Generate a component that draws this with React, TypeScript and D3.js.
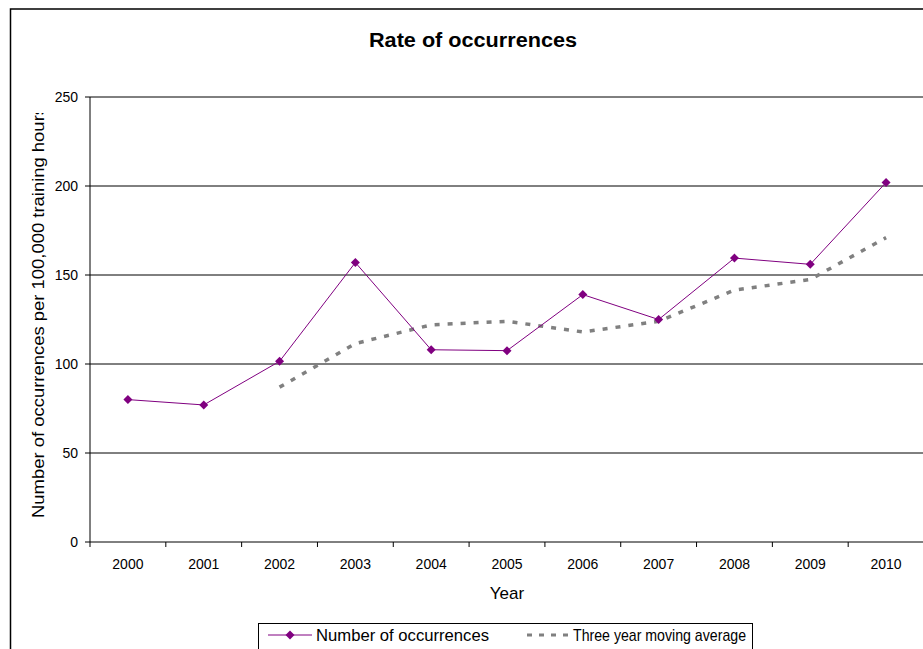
import React from 'react';
import * as d3 from 'd3';

const years = ['2000', '2001', '2002', '2003', '2004', '2005', '2006', '2007', '2008', '2009', '2010'];
const occurrences = [80, 77, 101.5, 157, 108, 107.5, 139, 125, 159.5, 156, 202];
const movingAvgYears = ['2002', '2003', '2004', '2005', '2006', '2007', '2008', '2009', '2010'];
const movingAvg = [87, 111.5, 122, 124, 118, 124, 141.5, 147.5, 171];
const yTicks = [0, 50, 100, 150, 200, 250];

const W = 923;
const H = 649;
const plot = { left: 90, top: 97, right: 924, bottom: 542 };
const font = '"Liberation Sans", Arial, sans-serif';
const purple = '#800080';
const grey = '#808080';

const Diamond = ({ x, y }: { x: number; y: number }) => (
  <path d={`M${x},${y - 4.5}L${x + 4.5},${y}L${x},${y + 4.5}L${x - 4.5},${y}Z`} fill={purple} />
);

export default function App() {
  const x = d3.scaleBand().domain(years).range([plot.left, plot.right]);
  const y = d3.scaleLinear().domain([0, 250]).range([plot.bottom, plot.top]);
  const cx = (yr: string) => (x(yr) as number) + x.bandwidth() / 2;

  const line = d3
    .line<[string, number]>()
    .x((d) => cx(d[0]))
    .y((d) => y(d[1]));
  const occData = years.map((yr, i) => [yr, occurrences[i]] as [string, number]);
  const avgData = movingAvgYears.map((yr, i) => [yr, movingAvg[i]] as [string, number]);

  return (
    <svg
      width={W}
      height={H}
      style={{ position: 'absolute', left: 0, top: 0, background: '#fff' }}
      fontFamily={font}
    >
      <defs>
        <clipPath id="ylab">
          <rect x={0} y={113} width={80} height={500} />
        </clipPath>
      </defs>
      <rect x={10.5} y={9} width={W + 10} height={H + 10} fill="none" stroke="#000" strokeWidth={1.5} />

      <text x={473} y={47} textAnchor="middle" fontSize={20} fontWeight="bold" textLength={208} lengthAdjust="spacingAndGlyphs">
        Rate of occurrences
      </text>

      {/* grid + y axis */}
      {yTicks.map((t) => (
        <g key={t}>
          {t > 0 && <line x1={plot.left} x2={W} y1={y(t)} y2={y(t)} stroke="#000" strokeWidth={1} />}
          <line x1={plot.left - 5} x2={plot.left} y1={y(t)} y2={y(t)} stroke="#000" />
          <text x={plot.left - 12} y={y(t)} dy="0.35em" textAnchor="end" fontSize={14}>
            {t}
          </text>
        </g>
      ))}
      <line x1={plot.left} x2={plot.left} y1={plot.top} y2={plot.bottom} stroke="#000" />
      <line x1={plot.left} x2={W} y1={plot.bottom} y2={plot.bottom} stroke="#000" />

      {/* x axis */}
      {years.map((yr) => (
        <g key={yr}>
          <line x1={x(yr)} x2={x(yr)} y1={plot.bottom} y2={plot.bottom + 5} stroke="#000" />
          <text x={cx(yr)} y={569} textAnchor="middle" fontSize={14}>
            {yr}
          </text>
        </g>
      ))}

      <text x={507} y={599} textAnchor="middle" fontSize={17}>
        Year
      </text>
      <g clipPath="url(#ylab)">
        <text
          transform="translate(44,518) rotate(-90)"
          textAnchor="start"
          fontSize={17}
          textLength={412}
          lengthAdjust="spacingAndGlyphs"
        >
          Number of occurrences per 100,000 training hours
        </text>
      </g>

      {/* series */}
      <path d={line(avgData) || ''} fill="none" stroke={grey} strokeWidth={3.5} strokeDasharray="5,8" />
      <path d={line(occData) || ''} fill="none" stroke={purple} strokeWidth={1} />
      {occData.map((d) => (
        <Diamond key={d[0]} x={cx(d[0])} y={y(d[1])} />
      ))}

      {/* legend */}
      <rect x={258.5} y={623.5} width={494} height={40} fill="#fff" stroke="#000" />
      <line x1={268} x2={312} y1={635} y2={635} stroke={purple} />
      <Diamond x={290} y={635} />
      <text x={316} y={641} fontSize={17} textLength={173} lengthAdjust="spacingAndGlyphs">
        Number of occurrences
      </text>
      <line x1={527} x2={569} y1={635} y2={635} stroke={grey} strokeWidth={3} strokeDasharray="5,7" />
      <text x={573} y={641} fontSize={17} textLength={173} lengthAdjust="spacingAndGlyphs">
        Three year moving average
      </text>
    </svg>
  );
}
